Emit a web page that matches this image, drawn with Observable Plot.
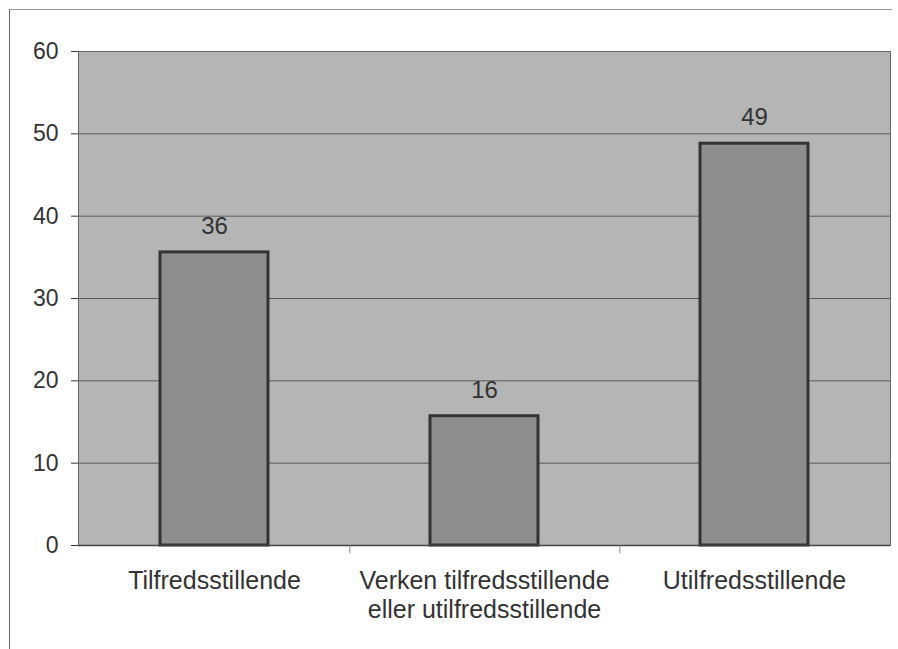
<!DOCTYPE html>
<html><head><meta charset="utf-8">
<script src="https://cdn.jsdelivr.net/npm/d3@7"></script>
<script src="https://cdn.jsdelivr.net/npm/@observablehq/plot@0.6"></script>
<style>
body{margin:0;background:#fff;}
#wrap{position:relative;width:898px;height:649px;overflow:hidden;}
#frame{position:absolute;left:9px;top:9px;width:882px;height:660px;border-left:1.5px solid #666;border-top:1.5px solid #999;pointer-events:none;}
#chart{position:absolute;left:0;top:0;}
</style></head><body><div id="wrap"><div id="chart"></div><div id="frame"></div></div>
<script>
const categories = ["Tilfredsstillende", "Verken tilfredsstillende\neller utilfredsstillende", "Utilfredsstillende"];
const values = [35.6, 15.7, 48.8];
const valueLabels = ["36", "16", "49"];
const yTicks = [0, 10, 20, 30, 40, 50, 60];

const data = categories.map((c, i) => ({category: c, value: values[i], label: valueLabels[i]}));
const W = 898, H = 649, mL = 78, mR = 8, mT = 51, mB = 104;
const step = (W - mL - mR) / categories.length;
const plot = Plot.plot({
  width: W, height: H, marginLeft: mL, marginRight: mR, marginTop: mT, marginBottom: mB,
  style: {fontFamily: "'Liberation Sans', Arial, sans-serif", fontSize: "23px", color: "#333", background: "transparent"},
  x: {domain: categories, paddingInner: 0.6, paddingOuter: 0.3, label: null},
  y: {domain: [0, 60], ticks: yTicks, label: null},
  marks: [
    Plot.frame({fill: "#b5b5b5"}),
    Plot.gridY(yTicks, {stroke: "#5a5a5a", strokeOpacity: 1, strokeWidth: 1}),
    Plot.barY(data, {x: "category", y: "value", fill: "#8e8e8e", stroke: "#333", strokeWidth: 3}),
    Plot.text(data, {x: "category", y: "value", text: "label", dy: -26, fontSize: 24, fill: "#333"}),
    Plot.frame({stroke: "#666"}),
    Plot.axisY(yTicks, {tickSize: 7, tickPadding: 13, fontSize: 23, stroke: "#333"}),
    Plot.ruleY([0], {stroke: "#444", strokeWidth: 1.5}),
    Plot.ruleX(categories.slice(0, -1), {x: d => d, y1: 0, y2: -1, dx: step / 2, stroke: "#888"}),
    Plot.axisX({tickSize: 0, tickPadding: 23, fontSize: 25, lineHeight: 1.15})
  ]
});
document.getElementById("chart").appendChild(plot);
</script></body></html>
